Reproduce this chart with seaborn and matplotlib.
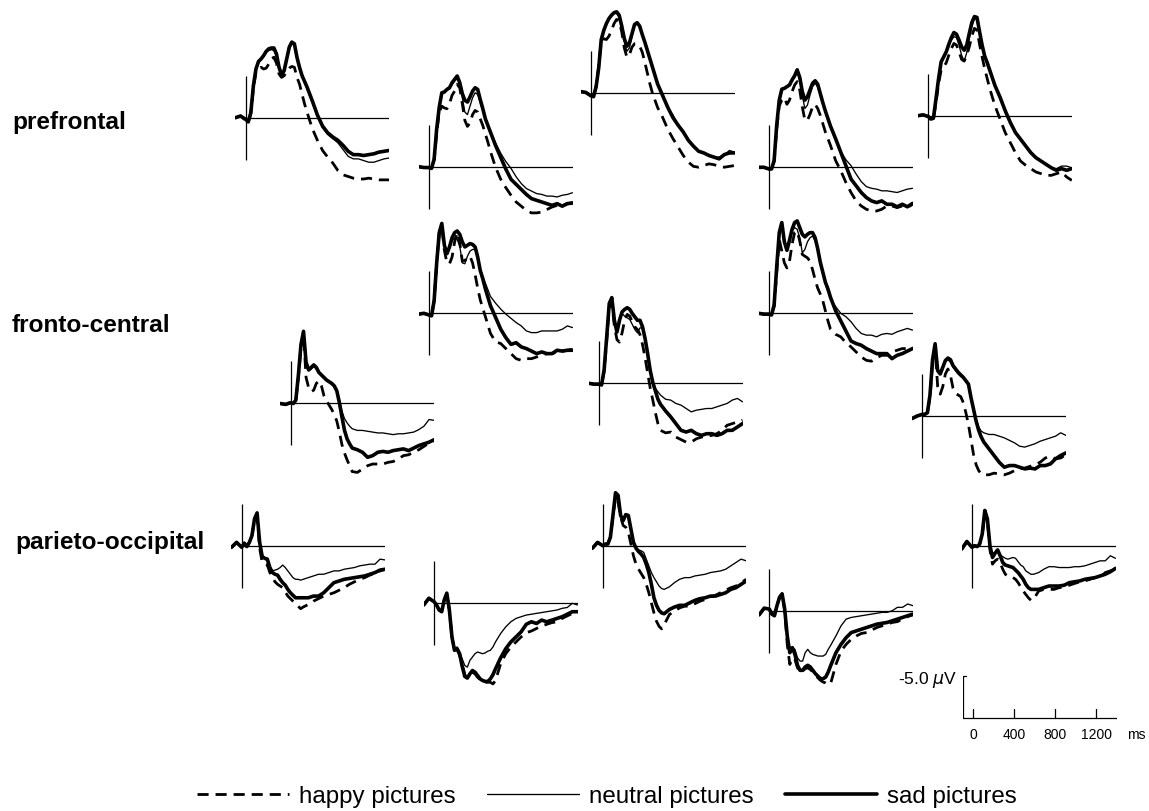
import matplotlib
matplotlib.use("Agg")
import matplotlib.pyplot as plt
from matplotlib.lines import Line2D
import pandas as pd
import seaborn as sns

sns.set_theme(style="white")
plt.rcParams["font.family"] = ["Liberation Sans", "DejaVu Sans"]
plt.rcParams["text.color"] = "black"

# ---------------- data (µV, negative plotted upward) ----------------
TIME_MS = [-100, -50, 0,
           25, 50, 75, 100, 125, 150, 175, 200,
           225, 250, 275, 300, 325, 350, 375, 400,
           425, 450, 475, 500, 525, 550, 575, 600,
           650, 700, 750, 800, 850, 900, 950, 1000,
           1050, 1100, 1150, 1200, 1250, 1300, 1350, 1400]

CONDITIONS = ["happy pictures", "neutral pictures", "sad pictures"]
ROW_LABELS = ["prefrontal", "fronto-central", "parieto-occipital"]
SCALE_TICKS = [0, 400, 800, 1200]
SCALE_UV = -5.0

# prefrontal
pf1_happy = [0.0, -0.2, 0.3, 0.5, -0.5, -3.5, -5.4, -5.9, -6.0, -5.8, -5.9, -6.4, -7.0, -7.2, -6.5, -5.2, -4.8, -5.0, -5.5, -5.9, -6.1, -6.0, -4.8, -4.0, -2.8, -1.6, -0.6, 1.3, 2.7, 3.9, 4.7, 5.4, 6.3, 6.8, 7.0, 7.2, 7.3, 7.3, 7.2, 7.3, 7.4, 7.4, 7.4]
pf1_neutral = [0.0, -0.2, 0.2, 0.5, -0.6, -3.6, -5.6, -6.5, -6.9, -7.3, -7.8, -8.0, -8.1, -8.0, -7.3, -6.2, -5.3, -5.7, -7.0, -8.2, -8.8, -8.6, -7.2, -6.0, -5.0, -4.2, -3.4, -1.8, -0.2, 1.2, 2.0, 2.5, 3.0, 3.8, 4.6, 4.9, 4.9, 5.1, 5.3, 5.3, 5.1, 4.9, 4.8]
pf1_sad = [0.0, -0.2, 0.2, 0.5, -0.6, -3.8, -5.8, -6.7, -7.0, -7.4, -7.9, -8.2, -8.3, -8.3, -7.6, -6.0, -5.1, -5.6, -7.0, -8.4, -9.0, -8.8, -7.2, -6.0, -5.0, -4.3, -3.6, -2.0, -0.3, 1.0, 1.8, 2.3, 2.7, 3.3, 4.0, 4.4, 4.4, 4.5, 4.4, 4.3, 4.1, 4.0, 3.9]

pf2_happy = [0.0, 0.1, 0.1, 0.2, -0.8, -4.0, -6.5, -7.2, -7.0, -6.9, -7.5, -8.5, -9.0, -9.8, -9.4, -7.5, -5.5, -4.8, -5.2, -6.2, -6.7, -6.5, -5.7, -4.9, -3.9, -2.9, -1.8, 0.1, 1.5, 2.5, 3.4, 4.2, 4.7, 5.2, 5.5, 5.5, 5.4, 5.1, 4.8, 4.6, 4.6, 4.4, 4.4]
pf2_neutral = [0.0, 0.1, 0.1, 0.2, -0.9, -4.4, -7.0, -8.7, -8.8, -9.1, -9.3, -9.8, -10.2, -10.5, -10.0, -8.2, -6.5, -6.2, -7.2, -8.2, -8.8, -8.6, -7.6, -6.7, -5.6, -4.9, -4.2, -2.8, -1.6, -0.6, 0.2, 1.2, 2.0, 2.6, 2.9, 3.2, 3.3, 3.5, 3.5, 3.6, 3.4, 3.3, 3.1]
pf2_sad = [0.0, 0.1, 0.1, 0.2, -0.9, -4.5, -7.1, -8.8, -8.9, -9.2, -9.4, -10.0, -10.4, -10.8, -10.0, -8.7, -7.9, -7.7, -8.3, -9.0, -9.4, -9.2, -8.0, -6.9, -5.7, -4.9, -4.1, -2.5, -1.1, 0.3, 1.5, 2.1, 2.7, 3.3, 3.8, 4.0, 4.2, 4.4, 4.6, 4.4, 4.7, 4.4, 4.3]

pf3_happy = [-0.2, -0.1, 0.3, 0.4, -0.8, -3.2, -6.2, -6.5, -6.4, -6.8, -7.5, -8.3, -8.8, -8.6, -7.3, -5.4, -4.3, -4.6, -5.5, -5.9, -5.9, -5.6, -4.9, -3.7, -2.4, -1.1, 0.0, 1.7, 2.9, 4.3, 5.4, 6.4, 7.4, 8.2, 8.7, 8.8, 8.6, 8.4, 8.5, 8.7, 8.8, 8.7, 8.6]
pf3_neutral = [-0.2, -0.1, 0.3, 0.4, -0.8, -3.0, -6.3, -7.4, -8.2, -8.8, -9.2, -9.5, -9.5, -9.1, -7.8, -6.2, -5.0, -5.4, -6.8, -8.0, -8.3, -7.9, -7.0, -6.1, -5.1, -4.1, -3.1, -1.1, 0.3, 1.7, 2.6, 3.7, 4.6, 5.6, 6.3, 6.9, 7.1, 7.4, 7.6, 7.6, 7.4, 6.8, 7.0]
pf3_sad = [-0.2, -0.1, 0.3, 0.4, -0.8, -3.0, -6.4, -7.5, -8.3, -8.9, -9.3, -9.6, -9.7, -9.3, -8.0, -6.5, -5.6, -6.0, -7.1, -8.2, -8.4, -8.0, -7.0, -6.1, -5.1, -4.1, -3.1, -1.1, 0.3, 1.7, 2.9, 3.8, 4.6, 5.6, 6.3, 6.9, 7.1, 7.4, 7.6, 7.8, 7.3, 7.1, 7.1]

pf4_happy = [0.0, 0.0, 0.2, 0.2, -0.7, -4.5, -7.3, -8.0, -8.3, -7.5, -8.0, -9.0, -9.8, -10.2, -9.2, -7.2, -5.6, -5.6, -6.3, -7.2, -7.5, -7.0, -6.2, -5.2, -4.2, -3.4, -2.6, -0.8, 0.4, 1.8, 3.0, 4.0, 4.6, 5.0, 5.2, 5.2, 5.0, 4.6, 4.6, 4.8, 4.6, 4.8, 4.4]
pf4_neutral = [0.0, 0.0, 0.2, 0.2, -0.8, -5.0, -8.0, -9.3, -9.4, -9.6, -9.8, -10.3, -10.7, -11.3, -10.5, -8.5, -7.0, -7.4, -8.6, -9.6, -10.0, -9.6, -8.6, -7.6, -6.6, -5.8, -4.9, -3.2, -1.9, -0.9, -0.2, 0.8, 1.7, 2.3, 2.5, 2.6, 2.8, 2.8, 2.9, 3.0, 2.8, 2.6, 2.5]
pf4_sad = [0.0, 0.0, 0.2, 0.2, -0.8, -5.0, -8.0, -9.3, -9.4, -9.6, -9.8, -10.4, -10.9, -11.6, -10.7, -9.0, -8.0, -8.4, -9.2, -10.0, -10.3, -9.9, -8.8, -7.7, -6.7, -5.8, -4.9, -3.4, -1.8, -0.2, 1.4, 2.2, 3.0, 3.6, 4.0, 4.2, 4.0, 4.4, 4.4, 4.7, 4.4, 4.7, 4.3]

pf5_happy = [0.0, -0.1, 0.1, 0.4, 0.3, -1.5, -3.8, -5.4, -5.8, -6.3, -7.2, -8.0, -8.6, -8.4, -7.6, -6.7, -6.5, -7.2, -8.2, -9.5, -10.4, -10.2, -8.5, -7.0, -5.6, -4.4, -3.2, -1.2, 0.4, 2.0, 3.2, 4.4, 5.4, 5.9, 6.3, 6.7, 6.9, 7.1, 7.1, 6.9, 6.7, 7.3, 7.7]
pf5_neutral = [0.0, -0.1, 0.1, 0.4, 0.3, -2.0, -4.4, -6.4, -7.0, -7.6, -8.5, -9.0, -9.4, -9.3, -8.4, -7.2, -6.5, -7.5, -9.2, -10.6, -11.6, -11.4, -9.8, -8.4, -7.1, -6.3, -5.4, -3.6, -2.2, -0.6, 0.8, 2.0, 2.8, 3.6, 4.4, 5.0, 5.4, 5.8, 6.2, 6.3, 6.0, 6.0, 6.2]
pf5_sad = [0.0, -0.1, 0.1, 0.4, 0.3, -2.0, -4.4, -6.4, -7.0, -7.6, -8.5, -9.3, -9.9, -9.7, -9.0, -8.2, -7.8, -8.4, -9.8, -11.1, -11.8, -11.7, -10.0, -8.4, -7.1, -6.3, -5.4, -3.6, -2.2, -0.6, 0.8, 2.0, 2.8, 3.6, 4.4, 5.0, 5.4, 5.8, 6.2, 6.5, 6.3, 6.5, 6.3]

# fronto-central
fc1_happy = [0.1, 0.2, 0.0, 0.1, -0.3, -3.0, -6.5, -8.2, -3.0, -1.8, -1.3, -1.5, -2.3, -2.6, -2.0, -0.8, -0.2, 0.3, 0.8, 1.4, 2.2, 3.5, 5.0, 6.0, 6.8, 7.5, 8.2, 8.3, 7.9, 7.5, 7.3, 7.3, 7.3, 7.1, 7.0, 6.7, 6.3, 6.2, 5.9, 5.6, 5.2, 4.8, 4.5]
fc1_neutral = [0.1, 0.2, 0.0, 0.1, -0.3, -3.3, -6.9, -8.5, -4.6, -3.8, -4.0, -4.3, -4.0, -3.5, -3.2, -2.9, -2.6, -2.4, -2.2, -2.0, -1.6, -0.4, 1.0, 1.9, 2.4, 2.8, 3.1, 3.3, 3.3, 3.4, 3.5, 3.6, 3.6, 3.7, 3.8, 3.7, 3.7, 3.6, 3.5, 3.2, 2.8, 2.0, 2.1]
fc1_sad = [0.1, 0.2, 0.0, 0.1, -0.3, -3.3, -6.9, -8.5, -4.8, -3.9, -4.2, -4.5, -4.2, -3.6, -3.3, -3.0, -2.7, -2.5, -2.3, -2.0, -1.4, 0.0, 1.7, 3.3, 4.3, 4.9, 5.4, 5.6, 5.9, 6.5, 6.3, 5.9, 5.8, 5.9, 5.7, 5.6, 5.5, 5.7, 5.4, 5.1, 4.9, 4.7, 4.4]

fc2_happy = [0.1, 0.0, 0.2, 0.3, -1.5, -6.0, -9.5, -10.4, -7.5, -6.0, -5.9, -6.7, -8.5, -9.6, -8.4, -6.2, -6.3, -6.6, -6.8, -6.0, -4.6, -3.0, -1.6, -0.6, 0.4, 1.4, 2.4, 3.4, 3.6, 4.2, 4.8, 5.4, 5.6, 5.4, 5.4, 5.2, 5.0, 4.8, 4.8, 4.6, 4.5, 4.4, 4.3]
fc2_neutral = [0.1, 0.0, 0.2, 0.3, -1.5, -6.0, -9.6, -10.5, -8.0, -7.2, -8.0, -8.6, -9.0, -8.8, -8.0, -6.0, -5.9, -6.8, -7.4, -7.6, -7.6, -6.6, -5.3, -4.4, -3.6, -2.8, -2.0, -1.2, -0.5, 0.1, 0.6, 1.1, 1.5, 2.1, 2.3, 2.3, 2.1, 2.1, 2.1, 2.1, 1.9, 1.5, 1.7]
fc2_sad = [0.1, 0.0, 0.2, 0.3, -1.5, -6.0, -9.6, -10.7, -8.1, -7.1, -7.9, -9.0, -9.6, -9.8, -9.4, -8.5, -7.9, -8.1, -8.3, -8.2, -7.9, -6.7, -5.1, -4.1, -2.9, -1.9, -0.9, 0.5, 1.9, 2.9, 3.7, 3.5, 4.0, 4.2, 4.5, 4.8, 4.6, 4.8, 4.8, 4.4, 4.5, 4.4, 4.4]

fc3_happy = [0.0, 0.1, 0.1, 0.2, -1.4, -5.0, -9.0, -9.6, -6.8, -5.2, -4.9, -6.0, -7.5, -8.2, -8.0, -7.3, -6.7, -6.4, -5.8, -4.6, -3.0, -1.2, 0.6, 2.0, 3.5, 4.8, 5.6, 5.9, 5.8, 6.4, 6.7, 7.0, 7.0, 6.6, 6.4, 6.3, 6.2, 6.0, 5.6, 5.0, 4.8, 4.6, 4.4]
fc3_neutral = [0.0, 0.1, 0.1, 0.2, -1.6, -5.5, -9.5, -10.2, -7.5, -6.3, -7.6, -8.3, -8.0, -7.8, -7.6, -7.0, -6.4, -6.0, -6.6, -6.6, -5.3, -3.6, -1.8, -0.3, 0.6, 1.0, 1.4, 1.9, 2.0, 2.4, 2.6, 3.0, 3.4, 3.2, 3.1, 3.0, 3.0, 2.8, 2.6, 2.4, 2.0, 1.8, 2.2]
fc3_sad = [0.0, 0.1, 0.1, 0.2, -1.6, -5.5, -9.5, -10.2, -7.5, -6.1, -7.5, -8.5, -8.8, -9.0, -8.8, -8.3, -7.9, -7.5, -7.5, -6.7, -5.3, -3.5, -1.5, -0.1, 0.9, 1.9, 2.5, 3.3, 4.0, 4.8, 5.6, 5.8, 5.6, 6.0, 6.2, 6.0, 6.0, 6.2, 6.0, 5.6, 5.6, 5.2, 4.8]

fc4_happy = [0.0, 0.1, 0.1, 0.2, -0.8, -4.8, -8.8, -7.4, -6.0, -5.4, -6.2, -8.2, -9.6, -9.8, -8.6, -7.0, -6.8, -6.6, -6.2, -5.2, -4.0, -3.0, -2.3, -1.5, -0.3, 0.9, 1.9, 2.5, 2.8, 3.5, 4.0, 4.6, 5.2, 5.6, 5.7, 5.3, 5.0, 5.0, 4.6, 4.4, 4.2, 4.2, 4.0]
fc4_neutral = [0.0, 0.1, 0.1, 0.2, -1.0, -5.5, -9.6, -10.7, -8.4, -7.6, -8.8, -9.8, -10.2, -10.0, -9.0, -7.2, -7.6, -8.5, -9.0, -9.2, -8.6, -7.6, -6.0, -4.8, -3.6, -2.6, -1.7, -0.8, 0.0, 0.4, 1.0, 1.8, 2.4, 2.6, 2.6, 2.8, 2.5, 2.4, 2.5, 2.2, 2.0, 1.8, 2.0]
fc4_sad = [0.0, 0.1, 0.1, 0.2, -1.0, -5.5, -9.6, -10.8, -8.5, -7.5, -8.7, -10.0, -10.8, -11.0, -10.2, -9.4, -9.1, -9.4, -9.6, -9.6, -9.0, -7.7, -6.1, -4.9, -3.7, -2.9, -1.9, -0.3, 0.9, 2.1, 3.3, 3.6, 3.8, 4.2, 4.5, 4.8, 4.8, 4.8, 5.4, 5.0, 4.8, 4.5, 4.2]

fc5_happy = [0.3, 0.0, -0.2, -0.2, -0.4, -2.3, -6.3, -8.0, -3.5, -2.6, -3.5, -5.0, -5.6, -4.8, -3.3, -2.7, -2.5, -2.3, -1.6, -0.4, 1.0, 2.8, 4.6, 5.8, 6.5, 6.9, 7.0, 7.0, 6.8, 6.9, 7.0, 6.8, 6.5, 6.3, 6.2, 6.0, 5.8, 5.5, 5.0, 4.8, 5.1, 5.0, 4.6]
fc5_neutral = [0.3, 0.0, -0.2, -0.2, -0.4, -2.5, -6.7, -8.7, -5.6, -5.2, -5.9, -6.5, -6.7, -6.4, -5.8, -5.4, -5.0, -4.7, -4.5, -4.1, -3.6, -2.2, -0.8, 0.4, 1.3, 1.8, 2.0, 2.2, 2.2, 2.4, 2.6, 2.9, 3.2, 3.6, 3.7, 3.5, 3.3, 3.0, 2.8, 2.6, 2.4, 2.0, 2.3]
fc5_sad = [0.3, 0.0, -0.2, -0.2, -0.4, -2.5, -6.7, -8.6, -5.4, -5.0, -5.8, -6.6, -6.9, -6.7, -6.0, -5.6, -5.2, -4.9, -4.6, -4.2, -3.8, -2.2, -0.8, 0.6, 1.7, 2.5, 3.1, 3.9, 4.7, 5.5, 6.1, 5.9, 5.9, 6.1, 6.3, 6.2, 6.3, 5.9, 5.9, 5.7, 5.1, 4.7, 4.4]

# parieto-occipital
po1_happy = [0.2, -0.4, 0.2, -0.3, 0.1, -0.4, -1.2, -3.0, -3.6, 0.3, 2.0, 2.2, 2.3, 3.2, 3.8, 4.3, 4.6, 4.8, 5.0, 5.5, 6.0, 6.3, 6.6, 6.9, 7.2, 7.5, 7.3, 7.0, 6.6, 6.3, 6.0, 5.8, 5.6, 5.3, 5.0, 4.6, 4.3, 4.0, 3.8, 3.5, 3.3, 3.0, 2.8]
po1_neutral = [0.2, -0.4, 0.2, -0.3, 0.1, -0.4, -1.2, -3.3, -4.0, -0.3, 1.2, 1.5, 1.9, 2.6, 3.0, 2.9, 2.8, 2.6, 2.3, 2.6, 3.0, 3.4, 3.8, 4.0, 4.0, 4.1, 4.0, 3.8, 3.6, 3.4, 3.4, 3.2, 3.0, 3.0, 2.8, 2.7, 2.6, 2.4, 2.3, 2.2, 2.2, 1.6, 1.7]
po1_sad = [0.2, -0.4, 0.2, -0.3, 0.1, -0.4, -1.2, -3.2, -3.9, -0.4, 1.3, 1.5, 1.6, 2.6, 3.2, 3.4, 3.5, 4.0, 4.4, 4.7, 5.2, 5.6, 5.9, 6.2, 6.2, 6.2, 6.2, 6.2, 6.0, 6.0, 5.6, 5.0, 4.4, 4.2, 4.0, 3.9, 3.8, 3.7, 3.6, 3.4, 3.2, 2.9, 2.8]

po2_happy = [0.2, -0.6, -0.2, 0.2, 0.8, 1.0, -0.4, -1.2, 0.8, 4.0, 5.6, 5.5, 6.2, 7.2, 8.5, 8.9, 8.5, 8.2, 8.4, 8.8, 9.1, 9.3, 9.4, 9.4, 9.4, 9.6, 9.2, 7.2, 6.0, 5.2, 4.6, 4.0, 3.5, 3.3, 3.0, 2.7, 2.5, 2.3, 2.2, 1.8, 1.5, 1.2, 1.0]
po2_neutral = [0.2, -0.6, -0.2, 0.2, 0.8, 1.0, -0.4, -1.3, 0.8, 4.0, 5.4, 5.2, 5.8, 6.6, 7.4, 7.6, 6.8, 6.4, 6.0, 5.8, 5.9, 6.0, 5.9, 5.7, 5.6, 5.2, 4.6, 3.6, 2.8, 2.2, 1.8, 1.6, 1.4, 1.3, 1.2, 1.1, 1.0, 0.9, 0.8, 0.6, 0.5, 0.0, 0.2]
po2_sad = [0.2, -0.6, -0.2, 0.2, 0.8, 1.0, -0.4, -1.2, 0.8, 4.0, 5.6, 5.4, 6.0, 7.5, 8.7, 8.9, 8.4, 8.0, 8.2, 8.6, 9.0, 9.2, 9.3, 9.3, 9.0, 8.5, 7.8, 6.5, 5.4, 4.6, 4.0, 3.4, 2.5, 2.2, 2.4, 2.0, 2.2, 2.0, 1.8, 1.6, 1.3, 1.0, 1.0]

po3_happy = [0.3, -0.4, 0.0, -0.2, -0.2, -1.0, -3.5, -5.8, -5.2, -3.4, -2.4, -2.2, -1.6, -0.2, 1.2, 2.2, 2.8, 3.3, 3.8, 4.6, 5.6, 6.8, 8.0, 9.0, 9.6, 9.9, 9.4, 8.2, 7.8, 7.4, 7.2, 7.2, 6.9, 6.6, 6.4, 6.1, 5.9, 5.6, 5.3, 5.0, 4.8, 4.4, 4.0]
po3_neutral = [0.3, -0.4, 0.0, -0.2, -0.2, -1.0, -3.8, -6.4, -6.0, -3.6, -2.9, -3.6, -3.4, -2.0, -0.4, 0.2, 0.5, 0.6, 0.8, 1.6, 2.4, 3.2, 3.8, 4.3, 4.8, 5.1, 5.2, 4.9, 4.4, 4.0, 3.8, 3.8, 3.6, 3.5, 3.4, 3.2, 3.1, 3.0, 2.8, 2.4, 2.0, 1.6, 1.8]
po3_sad = [0.3, -0.4, 0.0, -0.2, -0.2, -1.0, -3.6, -6.3, -6.0, -3.6, -3.0, -3.7, -3.6, -2.0, -0.4, 0.3, 0.7, 1.0, 1.4, 2.2, 3.2, 4.6, 6.2, 7.1, 7.7, 8.0, 8.1, 7.6, 7.3, 7.1, 7.1, 6.8, 6.5, 6.3, 6.2, 6.0, 6.0, 5.8, 5.6, 5.2, 5.0, 4.6, 4.2]

po4_happy = [0.5, -0.3, -0.2, 0.4, 0.6, -0.6, -1.6, -2.0, 0.0, 4.0, 6.4, 5.6, 5.8, 6.8, 7.3, 7.2, 6.9, 6.8, 7.0, 7.3, 7.7, 8.0, 8.3, 8.5, 8.6, 8.8, 8.6, 6.4, 4.8, 4.0, 3.4, 3.0, 2.7, 2.6, 2.3, 2.0, 1.8, 1.6, 1.4, 1.3, 1.0, 0.7, 0.5]
po4_neutral = [0.5, -0.3, -0.2, 0.4, 0.6, -0.6, -1.6, -2.1, -0.2, 3.2, 4.4, 4.4, 4.6, 5.6, 6.0, 6.0, 5.0, 4.6, 5.0, 5.2, 5.3, 5.4, 5.4, 5.4, 5.2, 4.6, 4.1, 3.0, 1.8, 1.0, 0.8, 0.7, 0.6, 0.5, 0.4, 0.3, 0.2, 0.2, 0.0, -0.4, -0.4, -0.8, -0.6]
po4_sad = [0.5, -0.3, -0.2, 0.4, 0.6, -0.6, -1.6, -2.0, -0.2, 3.0, 5.0, 4.4, 5.2, 6.5, 7.1, 7.1, 6.7, 6.5, 6.7, 7.1, 7.5, 7.8, 8.1, 8.1, 7.9, 7.3, 6.5, 5.0, 4.0, 3.2, 2.6, 2.4, 2.2, 2.0, 1.8, 1.6, 1.5, 1.4, 1.2, 1.0, 0.8, 0.6, 0.4]

po5_happy = [0.4, -0.5, 0.2, 0.0, 0.1, -0.2, -1.3, -4.0, -3.0, 0.5, 2.2, 1.8, 1.6, 2.0, 2.8, 3.4, 3.6, 3.6, 3.8, 4.0, 4.4, 4.9, 5.4, 5.8, 6.2, 6.5, 6.4, 5.4, 5.2, 5.2, 5.2, 5.0, 4.9, 4.7, 4.5, 4.3, 4.2, 4.0, 3.8, 3.8, 3.2, 3.0, 2.9]
po5_neutral = [0.4, -0.5, 0.2, 0.0, 0.1, -0.2, -1.4, -4.3, -3.3, 0.0, 1.0, 0.8, 0.5, 1.1, 1.3, 1.5, 1.6, 1.5, 1.4, 1.5, 1.9, 2.3, 2.5, 3.0, 3.2, 3.4, 3.4, 3.2, 2.8, 2.5, 2.5, 2.6, 2.6, 2.6, 2.5, 2.5, 2.4, 2.2, 2.0, 1.8, 1.8, 1.2, 1.5]
po5_sad = [0.4, -0.5, 0.2, 0.0, 0.1, -0.2, -1.4, -4.2, -3.2, 0.0, 1.4, 0.9, 0.5, 1.2, 2.0, 2.3, 2.4, 2.5, 2.6, 2.9, 3.2, 3.6, 4.0, 4.6, 5.0, 5.2, 5.2, 5.2, 5.0, 4.8, 4.8, 4.8, 4.7, 4.4, 4.3, 4.2, 4.0, 3.9, 3.8, 3.6, 3.4, 3.1, 2.7]

PANEL_DATA = {
    "pf1": (pf1_happy, pf1_neutral, pf1_sad), "pf2": (pf2_happy, pf2_neutral, pf2_sad),
    "pf3": (pf3_happy, pf3_neutral, pf3_sad), "pf4": (pf4_happy, pf4_neutral, pf4_sad),
    "pf5": (pf5_happy, pf5_neutral, pf5_sad),
    "fc1": (fc1_happy, fc1_neutral, fc1_sad), "fc2": (fc2_happy, fc2_neutral, fc2_sad),
    "fc3": (fc3_happy, fc3_neutral, fc3_sad), "fc4": (fc4_happy, fc4_neutral, fc4_sad),
    "fc5": (fc5_happy, fc5_neutral, fc5_sad),
    "po1": (po1_happy, po1_neutral, po1_sad), "po2": (po2_happy, po2_neutral, po2_sad),
    "po3": (po3_happy, po3_neutral, po3_sad), "po4": (po4_happy, po4_neutral, po4_sad),
    "po5": (po5_happy, po5_neutral, po5_sad),
}

# ---------------- layout (pixels) ----------------
W, H = 1149, 812
PX_PER_MS = 0.1025
PX_PER_UV = 8.4
T_START, T_END = -100, 1400
UV_TOP, UV_BOTTOM = -13.0, 11.0
# (x of stimulus onset, y of 0 µV baseline)
PANEL_POS = {
    "pf1": (245.7, 118.7), "pf2": (429.0, 167.7), "pf3": (591.0, 94.3),
    "pf4": (769.0, 168.3), "pf5": (928.3, 116.7),
    "fc1": (290.7, 403.7), "fc2": (429.0, 314.3), "fc3": (599.0, 384.3),
    "fc4": (769.0, 314.3), "fc5": (922.3, 417.0),
    "po1": (241.7, 546.7), "po2": (434.0, 604.3), "po3": (602.7, 546.7),
    "po4": (769.3, 611.7), "po5": (972.0, 546.7),
}
SCALE_POS = (973.0, 719.0)
ROW_LABEL_POS = [(12, 122), (12, 326), (15, 543)]

STYLE_ORDER = ["neutral pictures", "happy pictures", "sad pictures"]
DASHES = {"happy pictures": (4, 2.5), "neutral pictures": "", "sad pictures": ""}
WIDTHS = {"happy pictures": 2.0, "neutral pictures": 0.95, "sad pictures": 2.6}
AXIS_LW = 0.9

fig = plt.figure(figsize=(W / 100, H / 100), dpi=100)
fig.patch.set_facecolor("white")


def make_axes(x0, y0):
    left = x0 + T_START * PX_PER_MS
    width = (T_END - T_START) * PX_PER_MS
    top = y0 + UV_TOP * PX_PER_UV
    height = (UV_BOTTOM - UV_TOP) * PX_PER_UV
    ax = fig.add_axes([left / W, 1 - (top + height) / H, width / W, height / H])
    ax.patch.set_alpha(0)
    return ax


def finish(ax):
    ax.set_xlim(T_START, T_END)
    ax.set_ylim(UV_BOTTOM, UV_TOP)
    ax.set_axis_off()


for key, (x0, y0) in PANEL_POS.items():
    ax = make_axes(x0, y0)
    ax.plot([0, T_END], [0, 0], color="black", lw=AXIS_LW, solid_capstyle="butt")
    ax.plot([0, 0], [-5, 5], color="black", lw=AXIS_LW, solid_capstyle="butt")
    series = PANEL_DATA[key]
    df = pd.DataFrame({
        "time": TIME_MS * 3,
        "uv": list(series[0]) + list(series[1]) + list(series[2]),
        "condition": sum([[c] * len(TIME_MS) for c in CONDITIONS], []),
    })
    sns.lineplot(data=df, x="time", y="uv", style="condition", size="condition",
                 style_order=STYLE_ORDER, size_order=STYLE_ORDER,
                 dashes=DASHES, sizes=WIDTHS, color="black", legend=False,
                 estimator=None, ax=ax)
    finish(ax)

# scale bar
sax = make_axes(*SCALE_POS)
sax.plot([T_START, T_START], [0, SCALE_UV], color="black", lw=AXIS_LW)
sax.plot([T_START, T_START + 30], [SCALE_UV, SCALE_UV], color="black", lw=AXIS_LW)
sax.plot([T_START, T_END], [0, 0], color="black", lw=AXIS_LW)
for t in SCALE_TICKS:
    sax.plot([t, t], [0, -1.05], color="black", lw=AXIS_LW)
    sax.text(t, 1.9, str(t), ha="center", va="center", fontsize=10)
sax.text(1590, 1.9, "ms", ha="center", va="center", fontsize=10)
sax.text(T_START - 50, SCALE_UV + 0.3, f"{SCALE_UV:.1f} $\\mu$V", ha="right", va="center",
         fontsize=12.5)
finish(sax)

# row labels
for label, (x, y) in zip(ROW_LABELS, ROW_LABEL_POS):
    fig.text(x / W, 1 - y / H, label, fontsize=17.6, fontweight="bold",
             ha="left", va="center")

# legend
handles = [
    Line2D([0], [0], color="black", lw=WIDTHS["happy pictures"], dashes=DASHES["happy pictures"]),
    Line2D([0], [0], color="black", lw=WIDTHS["neutral pictures"]),
    Line2D([0], [0], color="black", lw=WIDTHS["sad pictures"]),
]
fig.legend(handles, CONDITIONS, loc="center", bbox_to_anchor=(607 / W, 1 - 797 / H),
           ncol=3, frameon=False, fontsize=17.4, handlelength=3.8, handletextpad=0.42,
           columnspacing=1.3)

fig.savefig("out.png", dpi=100, facecolor="white")
